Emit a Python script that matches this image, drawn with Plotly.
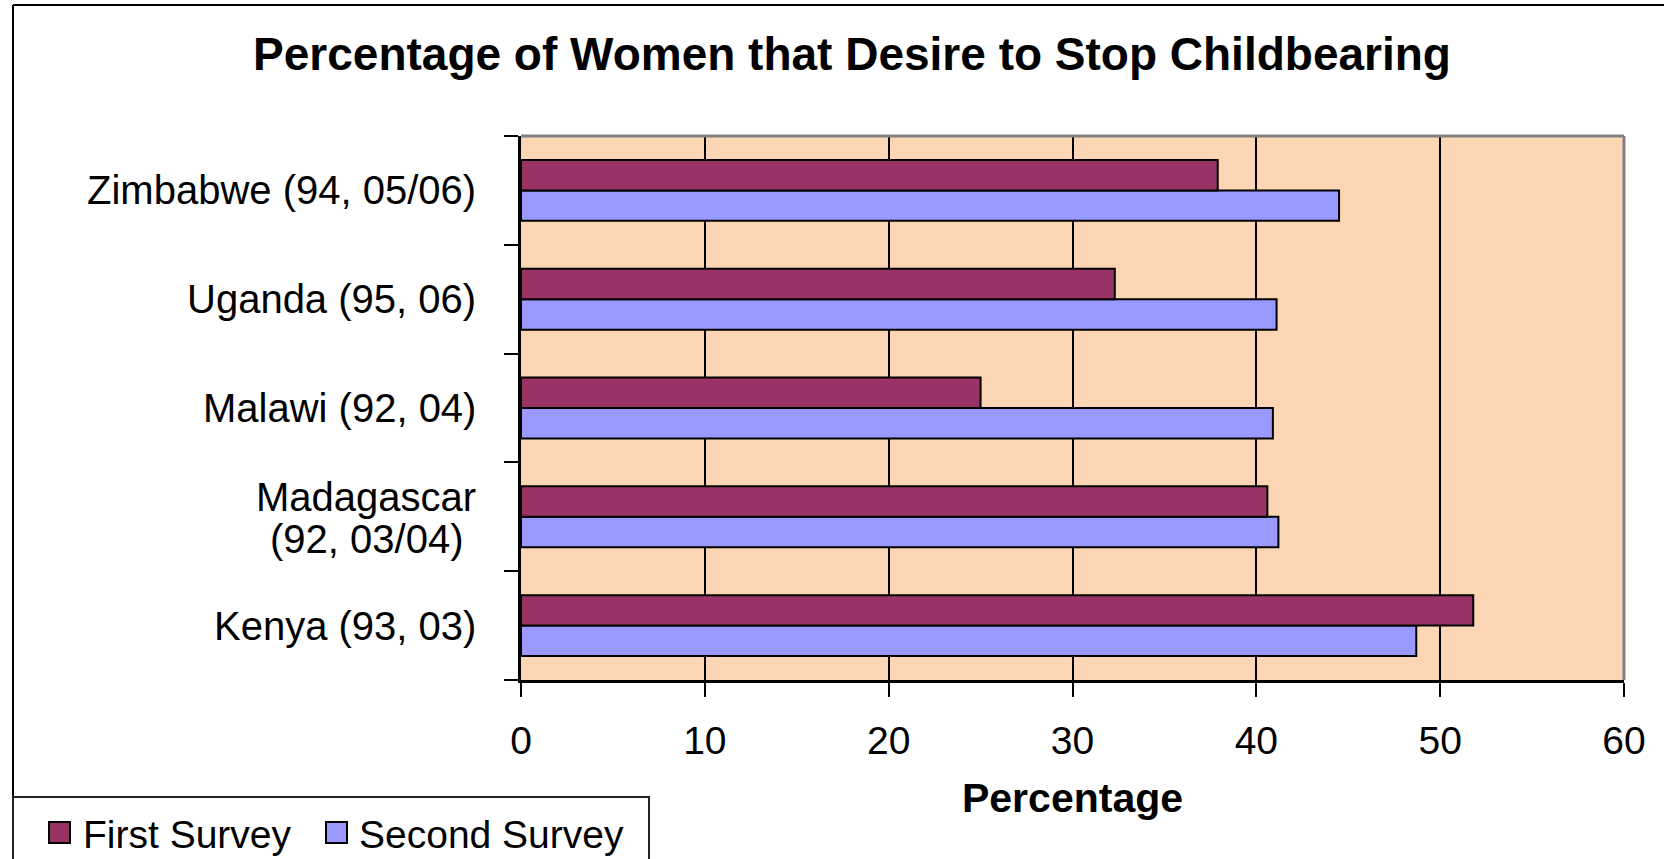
import plotly.graph_objects as go

# Survey results by country (survey years in brackets)
countries = [
    "Kenya (93, 03)",
    "Madagascar<br>(92, 03/04)",
    "Malawi (92, 04)",
    "Uganda (95, 06)",
    "Zimbabwe (94, 05/06)",
]
first_survey = [51.8, 40.6, 25.0, 32.3, 37.9]
second_survey = [48.7, 41.2, 40.9, 41.1, 44.5]
series_names = ["First Survey", "Second Survey"]
x_ticks = [0, 10, 20, 30, 40, 50, 60]

FIRST_COLOR = "#993366"
SECOND_COLOR = "#9999FF"
PLOT_BG = "#FCD5B4"
FONT = "Liberation Sans, Arial, sans-serif"

W, H = 1664, 859
PL, PR, PT, PB = 521, 1624, 136, 680


def px_x(x):
    return (x - PL) / (PR - PL)


def px_y(y):
    return (PB - y) / (PB - PT)


fig = go.Figure()
# second survey first so that it sits below the first survey within each group
fig.add_trace(go.Bar(
    y=countries, x=second_survey, name=series_names[1], orientation="h",
    marker=dict(color=SECOND_COLOR, line=dict(color="black", width=2)),
))
fig.add_trace(go.Bar(
    y=countries, x=first_survey, name=series_names[0], orientation="h",
    marker=dict(color=FIRST_COLOR, line=dict(color="black", width=2)),
))

shapes = []
annotations = []

# top and right border of the plot area
shapes.append(dict(type="line", xref="paper", yref="paper", x0=0, x1=1, y0=1, y1=1,
                   line=dict(color="#808080", width=3), layer="above"))
shapes.append(dict(type="line", xref="paper", yref="paper", x0=1, x1=1, y0=0, y1=1,
                   line=dict(color="#808080", width=3), layer="above"))

# outer chart frame
shapes.append(dict(type="line", xref="paper", yref="paper",
                   x0=px_x(13), x1=px_x(13), y0=px_y(900), y1=px_y(5),
                   line=dict(color="black", width=2)))
shapes.append(dict(type="line", xref="paper", yref="paper",
                   x0=px_x(13), x1=px_x(1700), y0=px_y(5), y1=px_y(5),
                   line=dict(color="black", width=2)))

# legend box
shapes.append(dict(type="rect", xref="paper", yref="paper",
                   x0=px_x(13), x1=px_x(649), y0=px_y(797), y1=px_y(900),
                   line=dict(color="#222222", width=2), fillcolor="white"))
legend_items = [(series_names[0], FIRST_COLOR, 49, 81), (series_names[1], SECOND_COLOR, 326, 357)]
for name, color, sx, tx in legend_items:
    shapes.append(dict(type="rect", xref="paper", yref="paper",
                       x0=px_x(sx), x1=px_x(sx + 21), y0=px_y(822), y1=px_y(843),
                       line=dict(color="black", width=2), fillcolor=color))
    annotations.append(dict(text=name, xref="paper", yref="paper",
                            x=px_x(tx), y=px_y(834), xanchor="left", yanchor="middle",
                            showarrow=False, font=dict(family=FONT, size=39, color="black")))

# category labels; two-line labels are set line by line, centred on each other
label_font = dict(family=FONT, size=40, color="black")
for c in countries:
    lines = c.split("<br>")
    if len(lines) == 1:
        annotations.append(dict(text=c, xref="paper", yref="y", x=px_x(478), y=c,
                                xanchor="right", yanchor="middle",
                                showarrow=False, font=label_font))
    else:
        for line, shift in zip(lines, [20, -22]):
            annotations.append(dict(text=line, xref="paper", yref="y", x=px_x(366), y=c,
                                    xanchor="center", yanchor="middle", yshift=shift,
                                    showarrow=False, font=label_font))

fig.update_layout(
    width=W, height=H,
    margin=dict(l=PL, r=W - PR, t=PT, b=H - PB, pad=0),
    paper_bgcolor="white",
    plot_bgcolor=PLOT_BG,
    barmode="group",
    bargap=0.44,
    bargroupgap=0,
    showlegend=False,
    title=dict(text="<b>Percentage of Women that Desire to Stop Childbearing</b>",
               x=852 / W, xanchor="center", xref="container",
               y=1 - 54 / H, yanchor="middle", yref="container",
               font=dict(family=FONT, size=46, color="black")),
    xaxis=dict(
        range=[0, 60], tickvals=x_ticks, ticks="outside", ticklen=14, tickwidth=2,
        tickcolor="black", showline=True, linecolor="black", linewidth=3,
        showgrid=True, gridcolor="black", gridwidth=2, zeroline=False,
        tickfont=dict(family=FONT, size=39, color="black"),
        ticklabelstandoff=10,
        title=dict(text="<b>Percentage</b>", standoff=23,
                   font=dict(family=FONT, size=41, color="black")),
    ),
    yaxis=dict(
        type="category", categoryorder="array", categoryarray=countries,
        showticklabels=False, ticks="outside", ticklen=14, tickwidth=2,
        tickcolor="black", tickson="boundaries",
        showline=True, linecolor="black", linewidth=3, showgrid=False,
        zeroline=False,
    ),
    shapes=shapes,
    annotations=annotations,
)

fig.write_html("out.html")
